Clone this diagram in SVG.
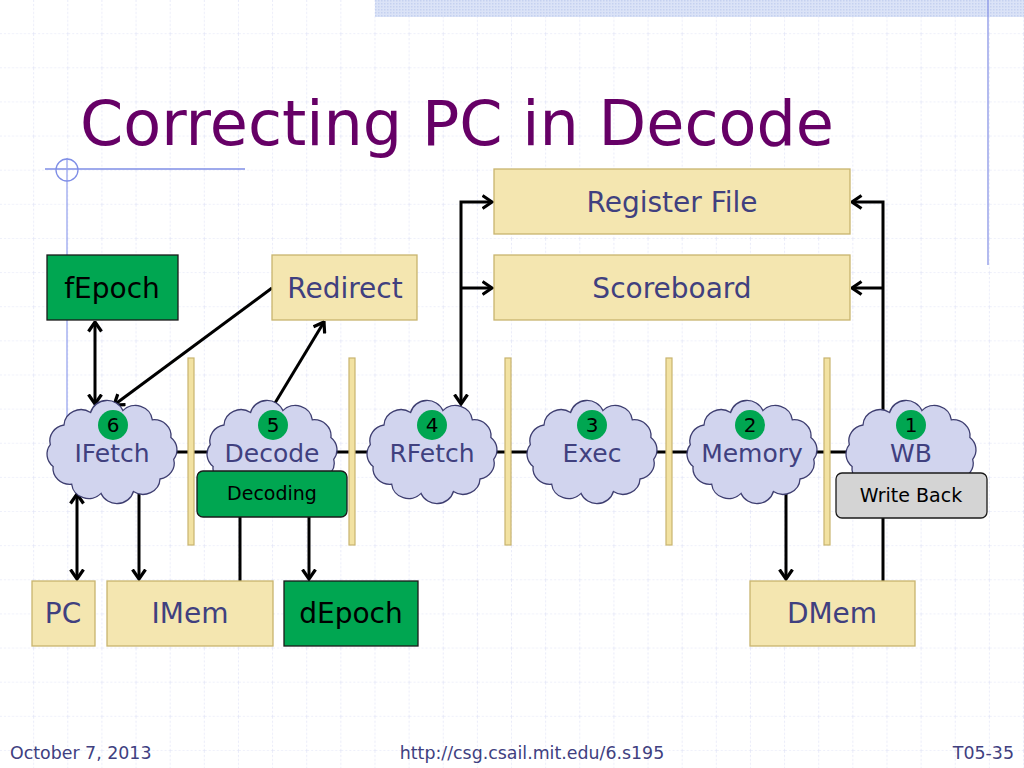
<svg xmlns="http://www.w3.org/2000/svg" xmlns:xlink="http://www.w3.org/1999/xlink" width="1024" height="768" viewBox="0 0 1024 768">
<defs>
<pattern id="grid" width="34.1333" height="34.1333" patternUnits="userSpaceOnUse">
<path d="M34.1333,0 V34.1333 M0,34.1333 H34.1333" stroke="#dcdff5" stroke-width="1.2" stroke-dasharray="2 2" fill="none"/>
</pattern>
<pattern id="dots" width="3" height="3" patternUnits="userSpaceOnUse">
<rect width="3" height="3" fill="#dbe3f7"/>
<rect width="1.5" height="1.5" fill="#c5d1f0"/>
</pattern>
<marker id="arr" viewBox="0 0 12 16" refX="10.5" refY="8" markerWidth="12" markerHeight="16" markerUnits="userSpaceOnUse" orient="auto-start-reverse">
<path d="M1,1.5 L10.5,8 L1,14.5" fill="none" stroke="#000" stroke-width="3.2" stroke-linejoin="miter"/>
</marker>
<path id="cloud" d="M-61.7,-7.3 A17,16 0 0 1 -48,-27 A17,16 0 0 1 -21.4,-39.5 A17,16 0 0 1 10.9,-41.4 A17,16 0 0 1 40.3,-32.2 A17,16 0 0 1 58.9,-14.4 A17,16 0 0 1 61.7,7.3 A17,16 0 0 1 48,27 A17,16 0 0 1 21.4,39.5 A17,16 0 0 1 -10.9,41.4 A17,16 0 0 1 -40.3,32.2 A17,16 0 0 1 -58.9,14.4 A17,16 0 0 1 -61.7,-7.3 Z"/>
</defs>
<style>
.box{fill:#f4e6b0;stroke:#c8b46e;stroke-width:1.3}
.gbox{fill:#00a651;stroke:#1a1a1a;stroke-width:1.3}
.bar{fill:#f2e2a2;stroke:#c8b46e;stroke-width:1.2}
.cl{fill:#d1d4ee;stroke:#3e3e70;stroke-width:1.3}
.num{fill:#00a651}
.lbl{font-family:"DejaVu Sans","Verdana",sans-serif;font-size:28px;fill:#40407f;text-anchor:middle}
.blk{font-family:"DejaVu Sans","Verdana",sans-serif;font-size:28px;fill:#000;text-anchor:middle}
.cll{font-family:"DejaVu Sans","Verdana",sans-serif;font-size:25px;fill:#40407f;text-anchor:middle}
.nt{font-family:"DejaVu Sans","Verdana",sans-serif;font-size:20px;fill:#000;text-anchor:middle}
.sm{font-family:"DejaVu Sans","Verdana",sans-serif;font-size:19px;fill:#000;text-anchor:middle}
.ft{font-family:"DejaVu Sans","Verdana",sans-serif;font-size:17.4px;fill:#40407f}
.ln{stroke:#000;stroke-width:3;fill:none}
.ar{stroke:#000;stroke-width:3;fill:none;marker-end:url(#arr)}
.ar2{stroke:#000;stroke-width:3;fill:none;marker-end:url(#arr);marker-start:url(#arr)}
</style>
<rect width="1024" height="768" fill="#ffffff"/>
<rect width="1024" height="768" fill="url(#grid)"/>
<rect x="375" y="0" width="649" height="17" fill="url(#dots)"/>
<line x1="988" y1="0" x2="988" y2="265" stroke="#8a96e6" stroke-width="1.3"/>
<line x1="45" y1="169" x2="245" y2="169" stroke="#7f8ee6" stroke-width="1.3"/>
<line x1="67" y1="158" x2="67" y2="420" stroke="#9aa6ee" stroke-width="1.3"/>
<circle cx="67" cy="170" r="11" fill="none" stroke="#7f8ee6" stroke-width="1.3"/>
<text x="80" y="145" font-family="DejaVu Sans, Verdana, sans-serif" font-size="62" fill="#660066">Correcting PC in Decode</text>

<g id="connectors">
<line class="ln" x1="150" y1="452" x2="880" y2="452"/>
<line class="ar2" x1="95" y1="322" x2="95" y2="404"/>
<line class="ar" x1="272" y1="288" x2="114" y2="405"/>
<line class="ar" x1="272" y1="408" x2="324" y2="322"/>
<polyline class="ar" points="461,288 461,202 492,202"/>
<line class="ar" x1="461" y1="288" x2="492" y2="288"/>
<line class="ar" x1="461" y1="288" x2="461" y2="404"/>
<polyline class="ar" points="883,420 883,202 852,202"/>
<line class="ar" x1="883" y1="288" x2="852" y2="288"/>
<line class="ln" x1="883" y1="515" x2="883" y2="581"/>
<line class="ar" x1="786" y1="480" x2="786" y2="579"/>
<line class="ar2" x1="77" y1="494" x2="77" y2="579"/>
<line class="ar" x1="139" y1="480" x2="139" y2="579"/>
<line class="ln" x1="240" y1="515" x2="240" y2="581"/>
<line class="ar" x1="309" y1="515" x2="309" y2="579"/>
</g>

<g id="bars">
<rect class="bar" x="188" y="358" width="6" height="187"/>
<rect class="bar" x="349" y="358" width="6" height="187"/>
<rect class="bar" x="505" y="358" width="6" height="187"/>
<rect class="bar" x="666" y="358" width="6" height="187"/>
<rect class="bar" x="824" y="358" width="6" height="187"/>
</g>

<g id="regfile"><rect class="box" x="494" y="169" width="356" height="65"/><text class="lbl" x="672" y="212">Register File</text></g>
<g id="scoreboard"><rect class="box" x="494" y="255" width="356" height="65"/><text class="lbl" x="672" y="298">Scoreboard</text></g>
<g id="redirect"><rect class="box" x="272" y="255" width="145" height="65"/><text class="lbl" x="345" y="298">Redirect</text></g>
<g id="fepoch"><rect class="gbox" x="47" y="255" width="131" height="65"/><text class="blk" x="112" y="298">fEpoch</text></g>
<g id="pc"><rect class="box" x="32" y="581" width="63" height="65"/><text class="lbl" x="63" y="623">PC</text></g>
<g id="imem"><rect class="box" x="107" y="581" width="166" height="65"/><text class="lbl" x="190" y="623">IMem</text></g>
<g id="depoch"><rect class="gbox" x="284" y="581" width="134" height="65"/><text class="blk" x="351" y="623">dEpoch</text></g>
<g id="dmem"><rect class="box" x="750" y="581" width="165" height="65"/><text class="lbl" x="832" y="623">DMem</text></g>

<g id="ifetch"><use xlink:href="#cloud" href="#cloud" class="cl" x="112" y="452"/><circle class="num" cx="113" cy="425" r="15"/><text class="nt" x="113" y="432">6</text><text class="cll" x="112" y="462">IFetch</text></g>
<g id="decode"><use xlink:href="#cloud" href="#cloud" class="cl" x="272" y="452"/><circle class="num" cx="273" cy="425" r="15"/><text class="nt" x="273" y="432">5</text><text class="cll" x="272" y="462">Decode</text></g>
<g id="rfetch"><use xlink:href="#cloud" href="#cloud" class="cl" x="432" y="452"/><circle class="num" cx="432" cy="425" r="15"/><text class="nt" x="432" y="432">4</text><text class="cll" x="432" y="462">RFetch</text></g>
<g id="exec"><use xlink:href="#cloud" href="#cloud" class="cl" x="592" y="452"/><circle class="num" cx="592" cy="425" r="15"/><text class="nt" x="592" y="432">3</text><text class="cll" x="592" y="462">Exec</text></g>
<g id="memory"><use xlink:href="#cloud" href="#cloud" class="cl" x="752" y="452"/><circle class="num" cx="750" cy="425" r="15"/><text class="nt" x="750" y="432">2</text><text class="cll" x="752" y="462">Memory</text></g>
<g id="wb"><use xlink:href="#cloud" href="#cloud" class="cl" x="911" y="452"/><circle class="num" cx="911" cy="425" r="15"/><text class="nt" x="911" y="432">1</text><text class="cll" x="911" y="462">WB</text></g>

<g id="decoding"><rect class="gbox" x="197" y="471" width="150" height="46" rx="6"/><text class="sm" x="272" y="500">Decoding</text></g>
<g id="writeback"><rect x="836" y="473" width="151" height="45" rx="6" fill="#d4d4d4" stroke="#1a1a1a" stroke-width="1.3"/><text class="sm" x="911" y="502">Write Back</text></g>

<text class="ft" x="10" y="759">October 7, 2013</text>
<text class="ft" x="532" y="759" text-anchor="middle">http://csg.csail.mit.edu/6.s195</text>
<text class="ft" x="1014" y="759" text-anchor="end">T05-35</text>
</svg>
